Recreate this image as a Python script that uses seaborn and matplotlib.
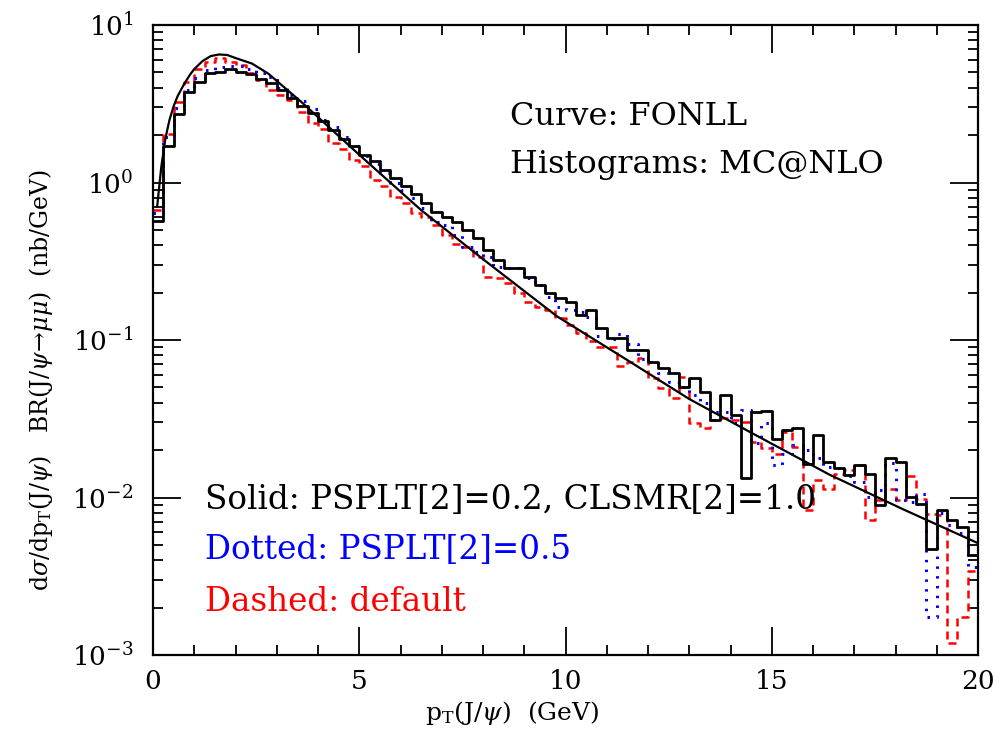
import numpy as np
import pandas as pd
import matplotlib
matplotlib.use("Agg")
import matplotlib.pyplot as plt
import seaborn as sns
from matplotlib.ticker import LogLocator, MultipleLocator, NullFormatter

# ---------------- data ----------------
bin_width = 0.25
n_bins = 80

# Solid histogram: PSPLT[2]=0.2, CLSMR[2]=1.0
solid = [0.572, 1.71, 2.72, 3.77, 4.37, 4.93, 5.05, 5.26, 5.05, 4.86, 4.52, 4.26, 3.87,
         3.45, 3.05, 2.75, 2.45, 2.15, 1.90, 1.70, 1.50, 1.36, 1.20, 1.07, 0.95, 0.84, 0.738,
         0.653, 0.607, 0.564, 0.499, 0.442, 0.373, 0.322, 0.285, 0.285, 0.253, 0.223, 0.198, 0.184,
         0.175, 0.144, 0.155, 0.119, 0.1025, 0.1025, 0.087, 0.087, 0.0728, 0.066, 0.0615, 0.0505, 0.0571,
         0.047, 0.031, 0.0448, 0.0334, 0.0133, 0.0351, 0.0356, 0.0234, 0.0268, 0.0275, 0.0163, 0.0249,
         0.0169, 0.0155, 0.0138, 0.0161, 0.0142, 0.0089, 0.0177, 0.0168, 0.0101, 0.0091, 0.00473,
         0.00834, 0.0072, 0.00653, 0.0043]

# Dotted histogram: PSPLT[2]=0.5
dotted = [0.637, 1.94, 2.98, 3.87, 4.59, 5.18, 5.43, 5.49, 5.49, 5.23, 4.93, 4.66, 4.0, 3.6,
          3.31, 2.95, 2.51, 2.24, 1.95, 1.70, 1.48, 1.32, 1.15, 1.00, 0.891, 0.794, 0.686,
          0.564, 0.537, 0.464, 0.392, 0.364, 0.338, 0.292, 0.285, 0.285, 0.246, 0.223, 0.188, 0.161,
          0.155, 0.151, 0.139, 0.106, 0.101, 0.109, 0.0938, 0.0755, 0.0722, 0.0615, 0.0543, 0.0505,
          0.045, 0.0396, 0.0351, 0.0351, 0.0296, 0.036, 0.0221, 0.0296, 0.0161, 0.019, 0.0215, 0.020, 0.0177,
          0.0157, 0.0153, 0.0136, 0.0126, 0.0101, 0.0112, 0.0165, 0.00964, 0.0094, 0.0106, 0.00175,
          0.00794, 0.00668, 0.00593, 0.0036]

# Dashed histogram: default
dashed = [0.668, 2.03, 3.26, 4.33, 5.23, 5.85, 6.15, 5.85, 5.57, 4.93, 4.48, 3.87, 3.59, 3.34,
          2.81, 2.39, 2.19, 1.79, 1.63, 1.39, 1.28, 1.04, 0.951, 0.811, 0.743, 0.64, 0.607,
          0.537, 0.464, 0.406, 0.392, 0.338, 0.253, 0.246, 0.229, 0.198, 0.175, 0.163, 0.155, 0.137,
          0.1245, 0.111, 0.0986, 0.0908, 0.09, 0.0684, 0.0728, 0.0766, 0.0571, 0.0493, 0.043, 0.0585,
          0.0296, 0.0277, 0.031, 0.032, 0.031, 0.030, 0.0226, 0.0205, 0.019, 0.0262, 0.021, 0.00834, 0.0129,
          0.0114, 0.0142, 0.015, 0.0161, 0.0072, 0.00964, 0.0114, 0.00964, 0.0136, 0.0098, 0.0079,
          0.00774, 0.00119, 0.00175, 0.0034]

# FONLL curve
fonll_pt = [0.1, 0.2, 0.3, 0.4, 0.5, 0.6, 0.75, 0.9, 1.0, 1.2, 1.4, 1.6, 1.8, 2.0, 2.4, 2.8,
            3.2, 3.6, 4.0, 5.0, 6.5, 8.0, 9.8, 11.5, 13.0, 14.5, 16.4, 18.2, 20.0]
fonll_val = [0.70, 1.25, 1.9, 2.5, 3.05, 3.55, 4.2, 4.85, 5.25, 5.9, 6.35, 6.5, 6.45, 6.17, 5.69, 4.90,
             3.98, 3.24, 2.60, 1.50, 0.668, 0.326, 0.141, 0.0745, 0.0422, 0.0258, 0.01396, 0.00838, 0.00513]

# ---------------- style ----------------
sns.set_style("ticks")
plt.rcParams["font.family"] = ["DejaVu Serif"]
plt.rcParams["mathtext.fontset"] = "dejavuserif"
for key in ["text.color", "axes.labelcolor", "xtick.color", "ytick.color", "axes.edgecolor"]:
    plt.rcParams[key] = "black"

fig = plt.figure(figsize=(10.07, 7.30), dpi=100)
ax = fig.add_axes([153 / 1007, 75 / 730, 825 / 1007, 630 / 730])

edges = np.arange(n_bins + 1) * bin_width


def step_frame(vals):
    return pd.DataFrame({"pt": edges, "val": list(vals) + [vals[-1]]})


specs = [
    (dashed, "#ff0000", (3.2, 2.0), 1.8),
    (dotted, "#0000ff", (0.8, 2.4), 2.2),
    (solid, "black", None, 2.0),
]
for vals, color, dash, lw in specs:
    sns.lineplot(data=step_frame(vals), x="pt", y="val", drawstyle="steps-post",
                 color=color, lw=lw, ax=ax, estimator=None, sort=False)
    line = ax.lines[-1]
    if dash is not None:
        line.set_dashes(dash)

sns.lineplot(x=fonll_pt, y=fonll_val, color="black", lw=1.6, ax=ax,
             estimator=None, sort=False)

ax.set_yscale("log")
ax.set_xlim(0, 20)
ax.set_ylim(1e-3, 10)

ax.xaxis.set_major_locator(MultipleLocator(5))
ax.xaxis.set_minor_locator(MultipleLocator(1))
ax.yaxis.set_major_locator(LogLocator(base=10, numticks=10))
ax.yaxis.set_minor_locator(LogLocator(base=10, subs=np.arange(2, 10), numticks=20))
ax.yaxis.set_minor_formatter(NullFormatter())

ax.tick_params(which="both", direction="in", top=True, right=True, width=1.3, colors="black")
ax.tick_params(which="major", length=20, labelsize=19)
ax.tick_params(which="minor", length=7)
ax.tick_params(axis="x", which="major", pad=10)
ax.tick_params(axis="y", which="major", pad=14)
for sp in ax.spines.values():
    sp.set_linewidth(1.6)
    sp.set_color("black")

ax.set_xlabel("")
ax.set_ylabel("")
fig.text(512 / 1007, 1 - 713 / 730, r"$\mathrm{p_T}(\mathrm{J}/\psi)$  (GeV)",
         fontsize=18, ha="center", va="center")
fig.text(41 / 1007, 1 - 380 / 730,
         r"d$\sigma$/d$\mathrm{p_T}(\mathrm{J}/\psi)$   BR$(\mathrm{J}/\psi\!\rightarrow\!\mu\mu)$  (nb/GeV)",
         fontsize=17, ha="center", va="center", rotation=90)

ax.text(0.433, 0.854, "Curve: FONLL", transform=ax.transAxes, fontsize=23,
        va="center", ha="left")
ax.text(0.433, 0.778, "Histograms: MC@NLO", transform=ax.transAxes, fontsize=23,
        va="center", ha="left")
ax.text(0.063, 0.246, "Solid: PSPLT[2]=0.2, CLSMR[2]=1.0", transform=ax.transAxes,
        fontsize=23.5, va="center", ha="left", color="black")
ax.text(0.063, 0.167, "Dotted: PSPLT[2]=0.5", transform=ax.transAxes,
        fontsize=23.5, va="center", ha="left", color="#0000ff")
ax.text(0.063, 0.084, "Dashed: default", transform=ax.transAxes,
        fontsize=23.5, va="center", ha="left", color="#ff0000")

fig.savefig("out.png", dpi=100)
